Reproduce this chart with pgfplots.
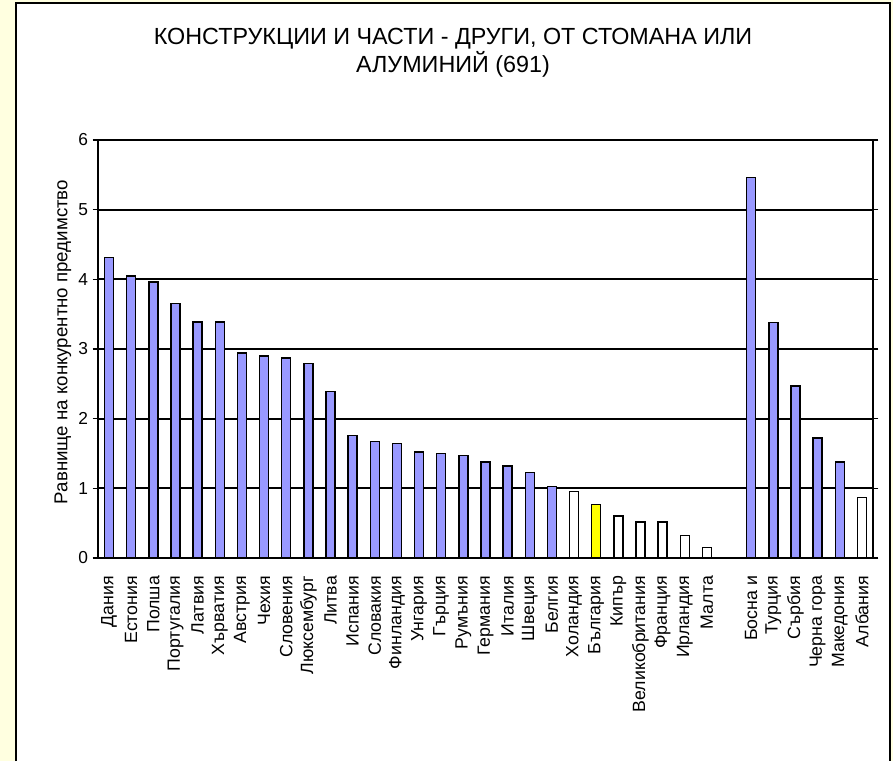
\documentclass[border=0pt]{standalone}
\usepackage{pgfplots}
\pgfplotsset{compat=1.18}
\usepackage{fontspec}
\setmainfont{Liberation Sans}
\definecolor{bgyellow}{HTML}{FFFFE0}
\definecolor{barblue}{HTML}{9999FF}
\definecolor{baryellow}{HTML}{FFFF00}
\begin{document}
\begin{tikzpicture}
% px -> pt : 0.75
\fill[bgyellow] (0,0) rectangle (669.75pt,570.75pt);
\fill[white] (12pt,0) rectangle (667.5pt,568.5pt);
\draw[black,line width=1.2pt] (12pt,0) -- (12pt,568.5pt) -- (667.5pt,568.5pt) -- (667.5pt,0);
\node[anchor=base,font=\fontsize{17.5}{20}\selectfont] at (339.75pt,537pt) {КОНСТРУКЦИИ И ЧАСТИ - ДРУГИ, ОТ СТОМАНА ИЛИ};
\node[anchor=base,font=\fontsize{17.5}{20}\selectfont] at (339.75pt,516pt) {АЛУМИНИЙ (691)};
\node[rotate=90,font=\fontsize{14}{16}\selectfont] at (47.25pt,314.25pt) {Равнище на конкурентно предимство};
\begin{axis}[
  at={(73.5pt,152.25pt)}, anchor=south west,
  scale only axis, width=581.25pt, height=313.5pt,
  ymin=0, ymax=6, xmin=-0.5, xmax=34.5,
  ytick={0,1,2,3,4,5,6},
  ymajorgrids, grid style={black,line width=1.5pt},
  axis line style={black,line width=1.4pt},
  y tick style={black,line width=1pt}, 
  tick align=outside, major tick length=4pt,
  xtick={0,...,34}, x tick style={draw=none},
  minor xtick={-0.5,0.5,...,34.5},
  minor x tick style={black,line width=1pt},
  minor tick length=5pt,
  xticklabels={Дания,Естония,Полша,Португалия,Латвия,Хърватия,Австрия,Чехия,Словения,Люксембург,Литва,Испания,Словакия,Финландия,Унгария,Гърция,Румъния,Германия,Италия,Швеция,Белгия,Холандия,България,Кипър,Великобритания,Франция,Ирландия,Малта,{},Босна и,Турция,Сърбия,Черна гора,Македония,Албания},
  xticklabel style={rotate=90,anchor=east,font=\fontsize{13.3}{15}\selectfont,yshift=0pt,xshift=-6pt},
  yticklabel style={font=\fontsize{13}{15}\selectfont},
  /pgf/number format/assume math mode=true,
  ybar, bar width=6.75pt, bar shift=0pt,
  every axis plot/.append style={draw=black,line width=1.1pt},
]
\addplot[fill=barblue] coordinates {(0,4.31)(1,4.05)(2,3.96)(3,3.65)(4,3.39)(5,3.39)(6,2.94)(7,2.90)(8,2.87)(9,2.79)(10,2.39)(11,1.76)(12,1.67)(13,1.64)(14,1.52)(15,1.50)(16,1.47)(17,1.38)(18,1.32)(19,1.23)(20,1.03)(29,5.46)(30,3.38)(31,2.47)(32,1.72)(33,1.38)};
\addplot[fill=white] coordinates {(21,0.955)(23,0.60)(24,0.52)(25,0.52)(26,0.32)(27,0.15)(34,0.865)};
\addplot[fill=baryellow] coordinates {(22,0.77)};
\end{axis}
\end{tikzpicture}
\end{document}
